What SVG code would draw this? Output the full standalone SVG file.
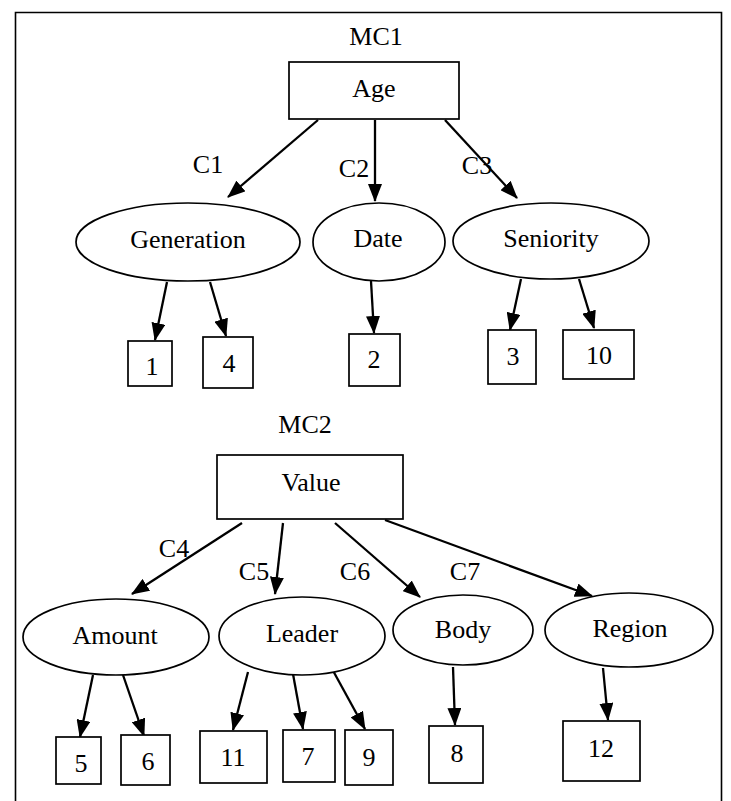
<svg xmlns="http://www.w3.org/2000/svg" width="731" height="801" viewBox="0 0 731 801">
<defs>
<style>
.t{font-family:"Liberation Serif","Times New Roman",serif;font-size:26px;fill:#000;text-anchor:middle}
.s{fill:#fff;stroke:#000;stroke-width:1.7}
.c{fill:none;stroke:#000;stroke-width:2.3}
</style>
<marker id="ah" markerUnits="userSpaceOnUse" markerWidth="18" markerHeight="14" refX="17" refY="7" orient="auto">
<path d="M0,0 L18,7 L0,14 Z" fill="#000"/>
</marker>
</defs>
<rect width="731" height="801" fill="#fff"/>
<path d="M15.5,801 V12.5 H721.5 V801" fill="none" stroke="#000" stroke-width="1.6"/>

<text class="t" x="376" y="45">MC1</text>
<text class="t" x="305" y="433">MC2</text>

<g id="connectors">
<path class="c" marker-end="url(#ah)" d="M318,120 L228,197"/>
<path class="c" marker-end="url(#ah)" d="M375,120 L375,201"/>
<path class="c" marker-end="url(#ah)" d="M445,120 L517,198"/>
<path class="c" marker-end="url(#ah)" d="M167,282 L155,340"/>
<path class="c" marker-end="url(#ah)" d="M210,282 L226,336"/>
<path class="c" marker-end="url(#ah)" d="M371,281 L374,333"/>
<path class="c" marker-end="url(#ah)" d="M521,279 L510,330"/>
<path class="c" marker-end="url(#ah)" d="M579,279 L594,328"/>
<path class="c" marker-end="url(#ah)" d="M242,523 L132,594"/>
<path class="c" marker-end="url(#ah)" d="M283,523 L275,594"/>
<path class="c" marker-end="url(#ah)" d="M335,523 L420,597"/>
<path class="c" marker-end="url(#ah)" d="M385,520 L592,596"/>
<path class="c" marker-end="url(#ah)" d="M93,675 L80,737"/>
<path class="c" marker-end="url(#ah)" d="M123,675 L144,736"/>
<path class="c" marker-end="url(#ah)" d="M248,672 L233,730"/>
<path class="c" marker-end="url(#ah)" d="M293,674 L303,729"/>
<path class="c" marker-end="url(#ah)" d="M331,667 L365,729"/>
<path class="c" marker-end="url(#ah)" d="M453,667 L455,725"/>
<path class="c" marker-end="url(#ah)" d="M603,668 L608,720"/>
<text class="t" x="208" y="173">C1</text>
<text class="t" x="354" y="177">C2</text>
<text class="t" x="477" y="174">C3</text>
<text class="t" x="174" y="557">C4</text>
<text class="t" x="254" y="580">C5</text>
<text class="t" x="355" y="580">C6</text>
<text class="t" x="465" y="580">C7</text>
</g>

<g id="age"><rect class="s" x="289" y="62" width="170" height="57"/><text class="t" x="374" y="97">Age</text></g>
<g id="generation"><ellipse class="s" cx="188" cy="242" rx="112" ry="39"/><text class="t" x="188" y="248">Generation</text></g>
<g id="date"><ellipse class="s" cx="379" cy="242" rx="66" ry="39"/><text class="t" x="378" y="247">Date</text></g>
<g id="seniority"><ellipse class="s" cx="551" cy="241" rx="98" ry="38"/><text class="t" x="551" y="247">Seniority</text></g>
<g id="n1"><rect class="s" x="128" y="341" width="44" height="45"/><text class="t" x="152" y="375">1</text></g>
<g id="n4"><rect class="s" x="203" y="337" width="50" height="51"/><text class="t" x="229" y="372">4</text></g>
<g id="n2"><rect class="s" x="349" y="334" width="51" height="52"/><text class="t" x="374" y="368">2</text></g>
<g id="n3"><rect class="s" x="488" y="330" width="48" height="54"/><text class="t" x="513" y="365">3</text></g>
<g id="n10"><rect class="s" x="563" y="330" width="71" height="49"/><text class="t" x="599" y="364">10</text></g>

<g id="value"><rect class="s" x="217" y="455" width="186" height="64"/><text class="t" x="311" y="491">Value</text></g>
<g id="amount"><ellipse class="s" cx="116" cy="637" rx="93" ry="38"/><text class="t" x="115" y="644">Amount</text></g>
<g id="leader"><ellipse class="s" cx="302" cy="636" rx="83" ry="39"/><text class="t" x="302" y="642">Leader</text></g>
<g id="body"><ellipse class="s" cx="463" cy="630" rx="70" ry="35"/><text class="t" x="463" y="638">Body</text></g>
<g id="region"><ellipse class="s" cx="629" cy="630" rx="84" ry="37"/><text class="t" x="630" y="637">Region</text></g>
<g id="n5"><rect class="s" x="56" y="737" width="45" height="47"/><text class="t" x="81" y="772">5</text></g>
<g id="n6"><rect class="s" x="121" y="735" width="49" height="50"/><text class="t" x="148" y="770">6</text></g>
<g id="n11"><rect class="s" x="200" y="731" width="67" height="52"/><text class="t" x="233" y="766">11</text></g>
<g id="n7"><rect class="s" x="283" y="730" width="52" height="52"/><text class="t" x="308" y="765">7</text></g>
<g id="n9"><rect class="s" x="345" y="730" width="48" height="55"/><text class="t" x="369" y="766">9</text></g>
<g id="n8"><rect class="s" x="429" y="726" width="54" height="57"/><text class="t" x="457" y="762">8</text></g>
<g id="n12"><rect class="s" x="563" y="721" width="77" height="60"/><text class="t" x="601" y="757">12</text></g>
</svg>
